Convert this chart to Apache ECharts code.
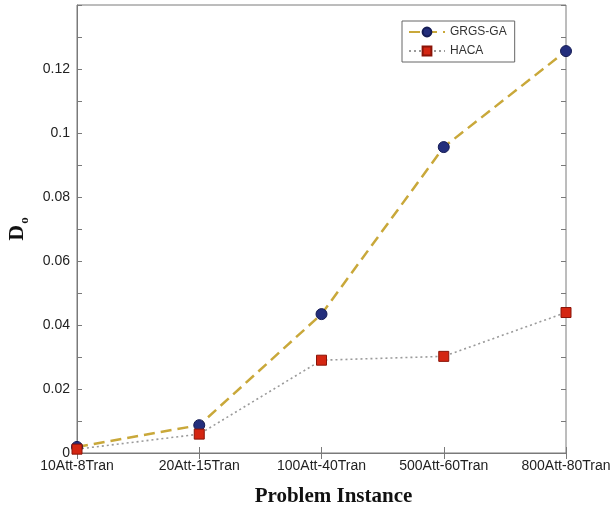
<!DOCTYPE html>
<html>
<head>
<meta charset="utf-8">
<script src="https://cdn.jsdelivr.net/npm/echarts@6/dist/echarts.min.js"></script>
<style>html,body{margin:0;padding:0;background:#fff;}#c{width:610px;height:508px;}</style>
</head>
<body>
<div id="c"></div>
<script>
const categories = ['10Att-8Tran', '20Att-15Tran', '100Att-40Tran', '500Att-60Tran', '800Att-80Tran'];
const grgsGA = [0.0019, 0.0087, 0.0434, 0.0956, 0.1256];
const haca = [0.0012, 0.0059, 0.0290, 0.0302, 0.0439];
const yTicks = [0, 0.02, 0.04, 0.06, 0.08, 0.1, 0.12];

const chart = echarts.init(document.getElementById('c'), null, {renderer: 'canvas'});
const axisColor = '#7a7a7a';
const labelFont = {color: '#222', fontSize: 14, fontFamily: 'Liberation Sans, Arial, sans-serif'};
chart.setOption({
  animation: false,
  backgroundColor: '#fff',
  grid: {left: 77, right: 44, top: 5, bottom: 55, containLabel: false, outerBoundsMode: 'none',
    show: true, borderColor: axisColor, borderWidth: 1},
  legend: {
    orient: 'vertical', left: 402, top: 21,
    backgroundColor: '#fff',
    borderColor: '#666', borderWidth: 1,
    padding: [5, 8, 5, 6], itemGap: 7,
    itemWidth: 36, itemHeight: 11,
    textStyle: {fontSize: 12, color: '#333', fontFamily: 'Liberation Sans, Arial, sans-serif'},
    data: ['GRGS-GA', 'HACA']
  },
  xAxis: [{
    type: 'category', data: categories, boundaryGap: false,
    axisLine: {lineStyle: {color: axisColor}},
    axisTick: {inside: true, length: 6, alignWithLabel: true, lineStyle: {color: axisColor}},
    axisLabel: Object.assign({margin: 6, interval: 0}, labelFont),
    splitLine: {show: false},
    name: 'Problem Instance', nameLocation: 'middle', nameGap: 33,
    nameTextStyle: {fontSize: 21, fontWeight: 'bold', color: '#111', padding: [0, 0, 0, 24],
      fontFamily: 'Liberation Serif, Times New Roman, serif'}
  }, {
    type: 'category', data: categories, boundaryGap: false, position: 'top',
    axisLine: {show: false},
    axisTick: {inside: true, length: 6, lineStyle: {color: axisColor}},
    axisLabel: {show: false}
  }],
  yAxis: [{
    type: 'value', min: 0, max: 0.14, interval: 0.02,
    axisLine: {show: true, lineStyle: {color: axisColor}},
    axisTick: {show: true, inside: true, length: 5, lineStyle: {color: axisColor}},
    minorTick: {show: true, splitNumber: 2, length: 5, lineStyle: {color: axisColor}},
    splitLine: {show: false},
    axisLabel: Object.assign({
      margin: 7,
      formatter: function (v) { return yTicks.some(t => Math.abs(t - v) < 1e-9) ? String(+v.toFixed(2)) : ''; }
    }, labelFont),
    name: '{d|D}{o|o}', nameLocation: 'middle', nameGap: 46, nameRotate: 90,
    nameTextStyle: {
      rich: {
        d: {fontSize: 22, fontWeight: 'bold', color: '#111', fontFamily: 'Liberation Serif, serif'},
        o: {fontSize: 13, fontWeight: 'bold', color: '#111', fontFamily: 'Liberation Serif, serif', padding: [14, 0, 0, 1]}
      }
    }
  }, {
    type: 'value', min: 0, max: 0.14, interval: 0.02, position: 'right',
    axisLine: {show: false},
    axisTick: {show: true, inside: true, length: 5, lineStyle: {color: axisColor}},
    minorTick: {show: true, splitNumber: 2, length: 5, lineStyle: {color: axisColor}},
    splitLine: {show: false},
    axisLabel: {show: false}
  }],
  series: [{
    name: 'GRGS-GA', type: 'line', data: grgsGA,
    symbol: 'circle', symbolSize: 11,
    lineStyle: {color: '#c9a83a', width: 2.5, type: [11, 6]},
    itemStyle: {color: '#232e7c', borderColor: '#151c55', borderWidth: 1}
  }, {
    name: 'HACA', type: 'line', data: haca,
    symbol: 'rect', symbolSize: 10,
    lineStyle: {color: '#9a9a9a', width: 1.6, type: [2, 3]},
    itemStyle: {color: '#d42612', borderColor: '#8a1408', borderWidth: 1}
  }]
});
</script>
</body>
</html>
